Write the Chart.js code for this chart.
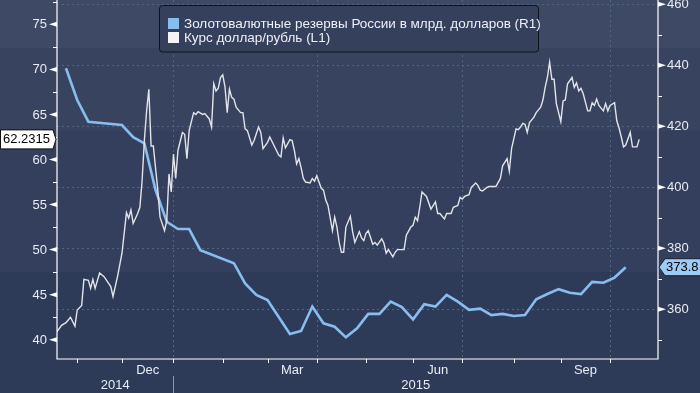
<!DOCTYPE html>
<html>
<head>
<meta charset="utf-8">
<script src="https://cdn.jsdelivr.net/npm/chart.js@4.4.1/dist/chart.umd.min.js"></script>
<style>
  html, body { margin: 0; padding: 0; background: #2e3b58; }
  #chart { display: block; }
</style>
</head>
<body>
<canvas id="chart" width="700" height="393"></canvas>
<script>
// x values are trading days counted from Mon 3 Nov 2014 (= day 0)
const monthStarts = [0, 20, 43, 65, 85, 107, 129, 150, 172, 195, 216, 238, 260];
const monthNames = ['Nov', 'Dec', 'Jan', 'Feb', 'Mar', 'Apr', 'May', 'Jun', 'Jul', 'Aug', 'Sep', 'Oct'];
const shownMonths = ['Dec', 'Mar', 'Jun', 'Sep'];
const quarterStarts = [43, 107, 172, 238];
const yearNames = ['2014', '2015'];
const yearBreak = 43;

const leftTicks = [40, 45, 50, 55, 60, 65, 70, 75];
const rightTicks = [360, 380, 400, 420, 440, 460];

// USD/RUB (left axis)
const rubDays = [
  -9, -7, -5, -3, -1, 0, 2, 3, 5, 6, 7, 8, 10, 12, 15, 16, 18, 20, 22, 23,
  24, 25, 27, 28, 29, 30, 31, 32, 33, 34, 36, 37, 39, 40, 41, 42, 43, 44, 45, 47,
  48, 49, 50, 52, 53, 54, 56, 57, 59, 60, 61, 62, 63, 64, 65, 66, 67, 68, 69, 70,
  71, 73, 74, 75, 76, 78, 79, 81, 82, 83, 85, 86, 88, 90, 91, 92, 93, 95, 96, 97,
  98, 99, 100, 101, 102, 104, 105, 106, 107, 109, 110, 111, 112, 114, 115, 116, 117, 118, 119, 120,
  122, 123, 124, 126, 127, 128, 129, 130, 132, 133, 134, 136, 137, 138, 139, 141, 142, 143, 146, 147,
  149, 150, 151, 152, 153, 154, 156, 158, 160, 161, 162, 164, 165, 167, 168, 170, 171, 172, 173, 175,
  176, 178, 179, 180, 181, 183, 184, 187, 189, 190, 192, 193, 194, 196, 197, 198, 199, 200, 201, 202,
  204, 205, 207, 208, 209, 210, 211, 212, 213, 214, 216, 217, 218, 219, 221, 222, 223, 224, 225, 226,
  228, 229, 230, 231, 232, 233, 235, 236, 237, 238, 240, 241, 242, 243, 244, 245, 247, 248, 250, 251
];
const rubValues = [
  40.9, 41.6, 41.9, 42.5, 41.5, 43.3, 43.8, 46.7, 46.6, 45.7, 46.7, 45.7, 47.4, 47.0, 45.9, 44.8, 47.0, 49.6, 54.1, 53.5,
  54.4, 52.9, 54.0, 54.7, 57.7, 62.1, 65.4, 67.8, 61.5, 61.5, 56.6, 53.6, 52.1, 53.2, 58.4, 56.4, 60.6, 57.9, 61.0, 63.0,
  62.8, 60.1, 63.2, 65.2, 65.0, 65.3, 65.0, 65.1, 64.5, 63.6, 68.4, 67.6, 67.9, 69.1, 69.4, 68.1, 65.2, 67.8, 66.9, 66.7,
  65.8, 65.2, 65.2, 63.4, 63.2, 61.6, 62.1, 63.6, 63.0, 61.2, 61.9, 62.5, 61.5, 60.5, 60.3, 62.4, 61.3, 62.2, 62.1, 61.0,
  59.5, 60.1, 59.1, 57.9, 57.5, 57.4, 57.9, 57.6, 58.2, 56.8, 56.6, 55.5, 54.9, 52.1, 53.6, 52.5, 50.8, 49.7, 49.7, 52.5,
  53.7, 52.0, 50.8, 52.0, 51.3, 51.0, 51.8, 52.1, 50.6, 50.8, 50.5, 51.2, 50.7, 49.6, 50.0, 49.2, 49.7, 50.0, 50.0, 51.6,
  52.5, 52.7, 53.6, 53.2, 54.7, 56.4, 55.9, 54.5, 55.3, 54.0, 54.0, 53.4, 54.0, 54.0, 54.7, 54.9, 55.8, 55.6, 55.9, 56.1,
  56.9, 57.4, 57.1, 56.6, 56.5, 56.9, 57.0, 57.0, 57.9, 59.3, 60.1, 58.7, 61.2, 63.4, 63.3, 63.6, 64.0, 63.9, 63.0, 64.1,
  64.7, 65.2, 65.8, 66.6, 68.0, 69.1, 70.8, 68.9, 68.9, 66.2, 64.2, 66.5, 66.6, 68.4, 69.1, 68.0, 68.5, 67.6, 67.9, 67.3,
  65.4, 65.4, 66.3, 66.0, 66.7, 66.0, 65.4, 66.2, 65.4, 66.0, 66.3, 64.3, 63.5, 62.5, 61.4, 61.6, 63.0, 61.4, 61.4, 62.2315
];

// Reserves, bn USD (right axis), weekly
const reserveDays = [
  -5, 0, 5, 20, 25, 30, 35, 40, 45, 50, 55, 70, 75, 80, 85, 95, 100, 105, 110, 115, 120, 125, 130,
  135, 140, 145, 150, 155, 160, 165, 170, 175, 180, 185, 190, 195, 200, 205, 210, 215, 220, 225, 230, 235, 240, 245
];
const reserveValues = [
  439.0, 428.6, 421.5, 420.4, 416.4, 414.4, 399.1, 388.7, 386.3, 386.3, 379.4, 375.1, 368.5, 364.7, 363.0, 351.9,
  352.9, 360.9, 355.4, 354.3, 350.8, 353.8, 358.5, 358.5, 362.5, 360.7, 356.7, 361.7, 360.9, 364.7, 362.5, 359.8,
  360.2, 358.1, 358.5, 357.8, 358.1, 363.3, 365.0, 366.6, 365.4, 365.0, 369.0, 368.7, 370.4, 373.8
];

const reserveLabel = 'Золотовалютные резервы России в млрд. долларов (R1)';
const rubLabel = 'Курс доллар/рубль (L1)';

const FONT = '"Liberation Sans", Arial, sans-serif';
const BLUE = '#88bdf0';
const WHITE_LINE = '#e2e4e8';

const decor = {
  id: 'decor',
  beforeDraw(chart) {
    const ctx = chart.ctx;
    const bands = [[0, 48, '#3e4a65'], [48, 131, '#38445f'], [131, 272, '#333f5c'], [272, 393, '#2e3b58']];
    bands.forEach(([y0, y1, c]) => { ctx.fillStyle = c; ctx.fillRect(0, y0, chart.width, y1 - y0); });
  },
  beforeDatasetsDraw(chart) {
    const ctx = chart.ctx, a = chart.chartArea;
    const x = chart.scales.x, yR = chart.scales.yR;
    ctx.save();
    ctx.strokeStyle = '#4f6781';
    ctx.lineWidth = 1;
    ctx.setLineDash([2, 3]);
    rightTicks.forEach(v => {
      const py = Math.round(yR.getPixelForValue(v)) + 0.5;
      ctx.beginPath(); ctx.moveTo(a.left, py); ctx.lineTo(a.right, py); ctx.stroke();
    });
    quarterStarts.forEach(d => {
      const px = Math.round(x.getPixelForValue(d)) + 0.5;
      ctx.beginPath(); ctx.moveTo(px, a.top); ctx.lineTo(px, a.bottom); ctx.stroke();
    });
    ctx.restore();
  },
  afterDatasetsDraw(chart) {
    const ctx = chart.ctx, a = chart.chartArea;
    const x = chart.scales.x, yL = chart.scales.yL, yR = chart.scales.yR;
    ctx.save();
    // axis lines
    ctx.strokeStyle = '#ffffff';
    ctx.lineWidth = 1.2;
    ctx.beginPath();
    ctx.moveTo(a.left, a.top); ctx.lineTo(a.left, a.bottom); ctx.lineTo(a.right, a.bottom); ctx.lineTo(a.right, a.top);
    ctx.stroke();

    ctx.fillStyle = '#ffffff';
    ctx.lineWidth = 1;
    // left ticks
    ctx.font = '13px ' + FONT;
    ctx.textBaseline = 'middle';
    ctx.textAlign = 'right';
    leftTicks.forEach(v => {
      const py = yL.getPixelForValue(v);
      ctx.beginPath(); ctx.moveTo(a.left, py - 2.5); ctx.lineTo(a.left - 8, py); ctx.lineTo(a.left, py + 2.5); ctx.fill();
      const pm = yL.getPixelForValue(v + 2.5);
      ctx.beginPath(); ctx.moveTo(a.left - 4, Math.round(pm) + 0.5); ctx.lineTo(a.left, Math.round(pm) + 0.5); ctx.stroke();
      ctx.fillStyle = '#e9ecf2';
      ctx.fillText(String(v), a.left - 10, py + 0.5);
      ctx.fillStyle = '#ffffff';
    });
    // right ticks
    ctx.textAlign = 'left';
    rightTicks.forEach(v => {
      const py = yR.getPixelForValue(v);
      ctx.beginPath(); ctx.moveTo(a.right, py - 2.5); ctx.lineTo(a.right + 8, py); ctx.lineTo(a.right, py + 2.5); ctx.fill();
      const pm = yR.getPixelForValue(v - 10);
      ctx.beginPath(); ctx.moveTo(a.right, Math.round(pm) + 0.5); ctx.lineTo(a.right + 4, Math.round(pm) + 0.5); ctx.stroke();
      ctx.fillStyle = '#e9ecf2';
      ctx.fillText(String(v), a.right + 9, py + 0.5);
      ctx.fillStyle = '#ffffff';
    });
    // bottom ticks and month labels
    ctx.textAlign = 'center';
    monthStarts.slice(0, -1).forEach((d, i) => {
      const px = Math.round(x.getPixelForValue(d)) + 0.5;
      ctx.beginPath(); ctx.moveTo(px, a.bottom); ctx.lineTo(px, a.bottom + 4); ctx.stroke();
      if (shownMonths.includes(monthNames[i])) {
        const mid = x.getPixelForValue((d + monthStarts[i + 1]) / 2);
        ctx.fillStyle = '#e9ecf2';
        ctx.fillText(monthNames[i], mid, a.bottom + 11);
        ctx.fillStyle = '#ffffff';
      }
    });
    // years
    const bx = Math.round(x.getPixelForValue(yearBreak)) + 0.5;
    ctx.strokeStyle = '#8d96a8';
    ctx.beginPath(); ctx.moveTo(bx, a.bottom + 17); ctx.lineTo(bx, chart.height); ctx.stroke();
    ctx.fillStyle = '#e9ecf2';
    ctx.fillText(yearNames[0], (a.left + bx) / 2, a.bottom + 26);
    ctx.fillText(yearNames[1], (bx + a.right) / 2, a.bottom + 26);

    // last value flags
    const lastRub = rubValues[rubValues.length - 1];
    const ly = yL.getPixelForValue(lastRub);
    const lt = lastRub.toFixed(4);
    ctx.font = '13px ' + FONT;
    const lw = ctx.measureText(lt).width;
    ctx.beginPath();
    ctx.moveTo(0.5, ly - 9.5); ctx.lineTo(lw + 6, ly - 9.5); ctx.lineTo(a.left - 1, ly);
    ctx.lineTo(lw + 6, ly + 9.5); ctx.lineTo(0.5, ly + 9.5); ctx.closePath();
    ctx.fillStyle = '#ffffff'; ctx.fill();
    ctx.strokeStyle = '#111111'; ctx.stroke();
    ctx.fillStyle = '#000000'; ctx.textAlign = 'left';
    ctx.fillText(lt, 3, ly + 0.5);

    const lastRes = reserveValues[reserveValues.length - 1];
    const ry = yR.getPixelForValue(lastRes);
    ctx.beginPath();
    ctx.moveTo(chart.width + 2, ry - 8.5); ctx.lineTo(a.right + 7, ry - 8.5); ctx.lineTo(a.right + 1, ry);
    ctx.lineTo(a.right + 7, ry + 8.5); ctx.lineTo(chart.width + 2, ry + 8.5); ctx.closePath();
    ctx.fillStyle = '#9ccbf6'; ctx.fill();
    ctx.strokeStyle = '#1a2233'; ctx.stroke();
    ctx.fillStyle = '#000000';
    ctx.fillText(lastRes.toFixed(1), a.right + 8, ry + 0.5);

    // legend
    ctx.beginPath();
    ctx.roundRect(159.5, 5.5, 379, 46.5, 3);
    ctx.fillStyle = '#34405c'; ctx.fill();
    ctx.strokeStyle = '#0e121b'; ctx.lineWidth = 1; ctx.stroke();
    ctx.fillStyle = BLUE; ctx.fillRect(168, 18, 11, 11);
    ctx.fillStyle = '#f4f4f4'; ctx.fillRect(168, 32, 11, 11);
    ctx.font = '13.5px ' + FONT;
    ctx.fillStyle = '#eef0f4';
    ctx.fillText(reserveLabel, 184, 24);
    ctx.fillText(rubLabel, 184, 38);
    ctx.restore();
  }
};

const ctx = document.getElementById('chart');

new Chart(ctx, {
  type: 'line',
  data: {
    datasets: [
      {
        label: rubLabel,
        data: rubDays.map((d, i) => ({ x: d, y: rubValues[i] })),
        yAxisID: 'yL',
        borderColor: WHITE_LINE,
        borderWidth: 1.4,
        pointRadius: 0,
        tension: 0,
        order: 0,
      },
      {
        label: reserveLabel,
        data: reserveDays.map((d, i) => ({ x: d, y: reserveValues[i] })),
        yAxisID: 'yR',
        borderColor: BLUE,
        borderWidth: 2.6,
        pointRadius: 0,
        tension: 0,
        order: 1,
      }
    ]
  },
  options: {
    responsive: false,
    animation: false,
    events: [],
    layout: { padding: { left: 57, right: 42, top: 0, bottom: 34 } },
    plugins: { legend: { display: false }, tooltip: { enabled: false } },
    scales: {
      x: { type: 'linear', min: -9.02, max: 259.4, display: false },
      yL: { type: 'linear', position: 'left', min: 37.86, max: 77.7, display: false },
      yR: { type: 'linear', position: 'right', min: 343.71, max: 461.38, display: false }
    }
  },
  plugins: [decor]
});
</script>
</body>
</html>
